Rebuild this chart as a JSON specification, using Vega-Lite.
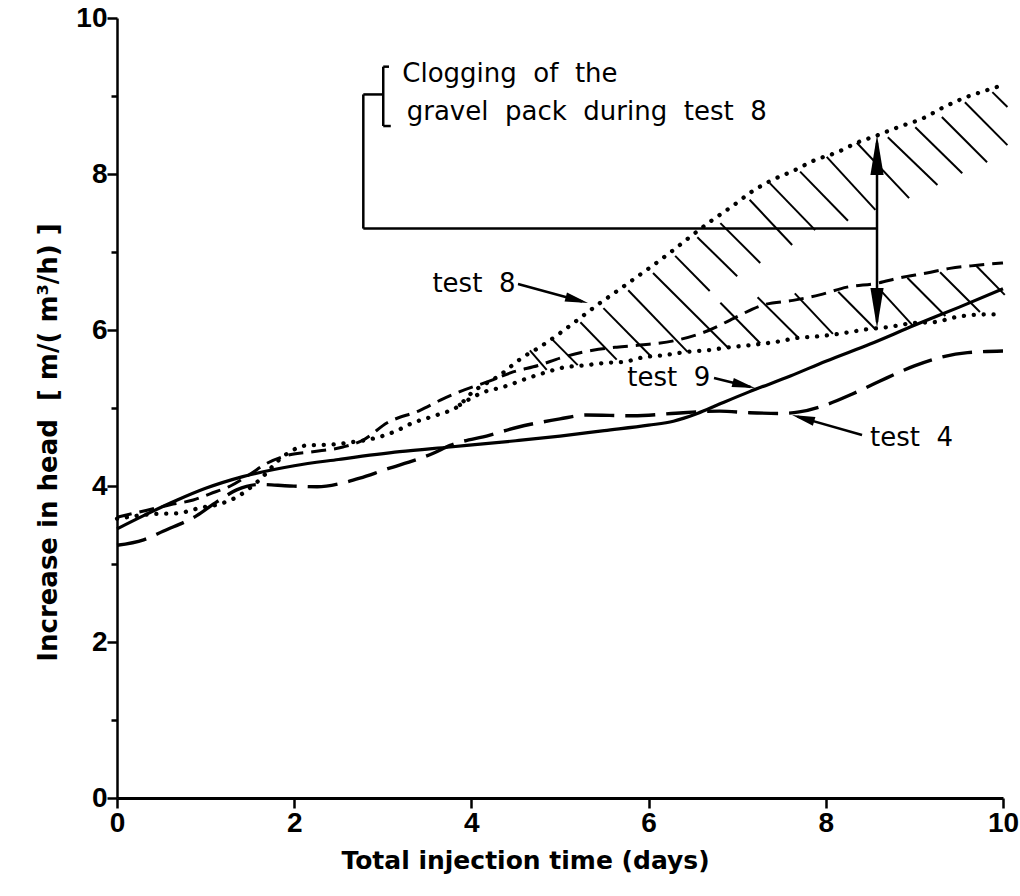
{
  "$schema": "https://vega.github.io/schema/vega-lite/v6.json",
  "width": 886,
  "height": 780,
  "autosize": {"type": "none"},
  "padding": {"left": 117, "top": 18, "right": 17, "bottom": 98},
  "background": "white",
  "config": {"view": {"stroke": null}, "font": "DejaVu Sans"},
  "datasets": {
    "curves": [
      {"series": "test 9", "x": 0, "y": 3.45}, {"series": "test 9", "x": 0.3, "y": 3.62}, {"series": "test 9", "x": 0.68, "y": 3.82},
      {"series": "test 9", "x": 1.0, "y": 3.97}, {"series": "test 9", "x": 1.42, "y": 4.12}, {"series": "test 9", "x": 2.0, "y": 4.26},
      {"series": "test 9", "x": 2.5, "y": 4.34}, {"series": "test 9", "x": 3.19, "y": 4.44}, {"series": "test 9", "x": 3.76, "y": 4.5},
      {"series": "test 9", "x": 4.5, "y": 4.58}, {"series": "test 9", "x": 5.0, "y": 4.64}, {"series": "test 9", "x": 5.5, "y": 4.71},
      {"series": "test 9", "x": 6.0, "y": 4.78}, {"series": "test 9", "x": 6.28, "y": 4.83}, {"series": "test 9", "x": 6.4, "y": 4.87},
      {"series": "test 9", "x": 6.55, "y": 4.93}, {"series": "test 9", "x": 6.8, "y": 5.05}, {"series": "test 9", "x": 7.14, "y": 5.21},
      {"series": "test 9", "x": 7.6, "y": 5.41}, {"series": "test 9", "x": 8.0, "y": 5.6}, {"series": "test 9", "x": 8.5, "y": 5.82},
      {"series": "test 9", "x": 9.0, "y": 6.06}, {"series": "test 9", "x": 9.5, "y": 6.29}, {"series": "test 9", "x": 10.0, "y": 6.53},

      {"series": "test 4", "x": 0, "y": 3.24}, {"series": "test 4", "x": 0.3, "y": 3.31}, {"series": "test 4", "x": 0.52, "y": 3.42},
      {"series": "test 4", "x": 0.9, "y": 3.62}, {"series": "test 4", "x": 1.13, "y": 3.8}, {"series": "test 4", "x": 1.35, "y": 3.95},
      {"series": "test 4", "x": 1.61, "y": 4.02}, {"series": "test 4", "x": 1.95, "y": 4.0}, {"series": "test 4", "x": 2.26, "y": 3.99},
      {"series": "test 4", "x": 2.55, "y": 4.04}, {"series": "test 4", "x": 2.74, "y": 4.1}, {"series": "test 4", "x": 3.0, "y": 4.2},
      {"series": "test 4", "x": 3.57, "y": 4.42}, {"series": "test 4", "x": 3.76, "y": 4.52}, {"series": "test 4", "x": 4.2, "y": 4.65},
      {"series": "test 4", "x": 4.51, "y": 4.75}, {"series": "test 4", "x": 5.0, "y": 4.86}, {"series": "test 4", "x": 5.3, "y": 4.91},
      {"series": "test 4", "x": 5.82, "y": 4.9}, {"series": "test 4", "x": 6.39, "y": 4.94}, {"series": "test 4", "x": 6.8, "y": 4.96},
      {"series": "test 4", "x": 7.14, "y": 4.94}, {"series": "test 4", "x": 7.5, "y": 4.93}, {"series": "test 4", "x": 7.7, "y": 4.95},
      {"series": "test 4", "x": 8.0, "y": 5.04}, {"series": "test 4", "x": 8.3, "y": 5.18}, {"series": "test 4", "x": 8.6, "y": 5.34},
      {"series": "test 4", "x": 9.0, "y": 5.54}, {"series": "test 4", "x": 9.3, "y": 5.65}, {"series": "test 4", "x": 9.6, "y": 5.71},
      {"series": "test 4", "x": 10.0, "y": 5.73},

      {"series": "dashed", "x": 0, "y": 3.6}, {"series": "dashed", "x": 0.34, "y": 3.69}, {"series": "dashed", "x": 0.6, "y": 3.76},
      {"series": "dashed", "x": 0.86, "y": 3.82}, {"series": "dashed", "x": 1.05, "y": 3.9}, {"series": "dashed", "x": 1.28, "y": 4.0},
      {"series": "dashed", "x": 1.5, "y": 4.15}, {"series": "dashed", "x": 1.69, "y": 4.29}, {"series": "dashed", "x": 1.95, "y": 4.4},
      {"series": "dashed", "x": 2.21, "y": 4.44}, {"series": "dashed", "x": 2.55, "y": 4.5}, {"series": "dashed", "x": 2.78, "y": 4.59},
      {"series": "dashed", "x": 3.05, "y": 4.81}, {"series": "dashed", "x": 3.42, "y": 4.97}, {"series": "dashed", "x": 3.65, "y": 5.1},
      {"series": "dashed", "x": 3.87, "y": 5.21}, {"series": "dashed", "x": 4.24, "y": 5.36}, {"series": "dashed", "x": 4.44, "y": 5.45},
      {"series": "dashed", "x": 4.77, "y": 5.55}, {"series": "dashed", "x": 5.0, "y": 5.64}, {"series": "dashed", "x": 5.37, "y": 5.74},
      {"series": "dashed", "x": 5.64, "y": 5.78}, {"series": "dashed", "x": 5.94, "y": 5.81}, {"series": "dashed", "x": 6.32, "y": 5.87},
      {"series": "dashed", "x": 6.69, "y": 6.0}, {"series": "dashed", "x": 6.96, "y": 6.15}, {"series": "dashed", "x": 7.29, "y": 6.32},
      {"series": "dashed", "x": 7.63, "y": 6.38}, {"series": "dashed", "x": 7.93, "y": 6.45}, {"series": "dashed", "x": 8.24, "y": 6.55},
      {"series": "dashed", "x": 8.58, "y": 6.6}, {"series": "dashed", "x": 8.84, "y": 6.67}, {"series": "dashed", "x": 9.14, "y": 6.73},
      {"series": "dashed", "x": 9.4, "y": 6.79}, {"series": "dashed", "x": 9.71, "y": 6.83}, {"series": "dashed", "x": 10.0, "y": 6.86},

      {"series": "test 8", "x": 0, "y": 3.58}, {"series": "test 8", "x": 0.41, "y": 3.64}, {"series": "test 8", "x": 0.68, "y": 3.65},
      {"series": "test 8", "x": 0.94, "y": 3.72}, {"series": "test 8", "x": 1.16, "y": 3.77}, {"series": "test 8", "x": 1.37, "y": 3.87},
      {"series": "test 8", "x": 1.58, "y": 4.05}, {"series": "test 8", "x": 1.9, "y": 4.4}, {"series": "test 8", "x": 2.14, "y": 4.52},
      {"series": "test 8", "x": 2.4, "y": 4.53}, {"series": "test 8", "x": 2.7, "y": 4.57}, {"series": "test 8", "x": 2.86, "y": 4.6},
      {"series": "test 8", "x": 3.12, "y": 4.69}, {"series": "test 8", "x": 3.34, "y": 4.81}, {"series": "test 8", "x": 3.61, "y": 4.91},
      {"series": "test 8", "x": 3.87, "y": 5.04}, {"series": "test 8", "x": 3.98, "y": 5.17}, {"series": "test 8", "x": 4.32, "y": 5.42},
      {"series": "test 8", "x": 4.58, "y": 5.65}, {"series": "test 8", "x": 4.77, "y": 5.78}, {"series": "test 8", "x": 5.0, "y": 5.96},
      {"series": "test 8", "x": 5.2, "y": 6.13}, {"series": "test 8", "x": 5.42, "y": 6.32}, {"series": "test 8", "x": 5.62, "y": 6.48},
      {"series": "test 8", "x": 5.83, "y": 6.65}, {"series": "test 8", "x": 6.04, "y": 6.82}, {"series": "test 8", "x": 6.24, "y": 6.99},
      {"series": "test 8", "x": 6.43, "y": 7.16}, {"series": "test 8", "x": 6.66, "y": 7.36}, {"series": "test 8", "x": 6.96, "y": 7.6},
      {"series": "test 8", "x": 7.16, "y": 7.77}, {"series": "test 8", "x": 7.39, "y": 7.92}, {"series": "test 8", "x": 7.65, "y": 8.05},
      {"series": "test 8", "x": 7.88, "y": 8.18}, {"series": "test 8", "x": 8.13, "y": 8.28}, {"series": "test 8", "x": 8.35, "y": 8.4},
      {"series": "test 8", "x": 8.59, "y": 8.5}, {"series": "test 8", "x": 8.84, "y": 8.61}, {"series": "test 8", "x": 9.09, "y": 8.71},
      {"series": "test 8", "x": 9.32, "y": 8.85}, {"series": "test 8", "x": 9.55, "y": 8.97}, {"series": "test 8", "x": 9.78, "y": 9.06},
      {"series": "test 8", "x": 10.0, "y": 9.14},

      {"series": "dotted lower", "x": 3.87, "y": 5.04}, {"series": "dotted lower", "x": 4.13, "y": 5.2}, {"series": "dotted lower", "x": 4.36, "y": 5.27},
      {"series": "dotted lower", "x": 4.63, "y": 5.38}, {"series": "dotted lower", "x": 4.85, "y": 5.46}, {"series": "dotted lower", "x": 5.0, "y": 5.51},
      {"series": "dotted lower", "x": 5.3, "y": 5.55}, {"series": "dotted lower", "x": 5.53, "y": 5.58}, {"series": "dotted lower", "x": 5.71, "y": 5.59},
      {"series": "dotted lower", "x": 5.94, "y": 5.65}, {"series": "dotted lower", "x": 6.19, "y": 5.68}, {"series": "dotted lower", "x": 6.43, "y": 5.72},
      {"series": "dotted lower", "x": 6.66, "y": 5.74}, {"series": "dotted lower", "x": 6.92, "y": 5.78}, {"series": "dotted lower", "x": 7.18, "y": 5.81},
      {"series": "dotted lower", "x": 7.45, "y": 5.85}, {"series": "dotted lower", "x": 7.69, "y": 5.9}, {"series": "dotted lower", "x": 7.93, "y": 5.92},
      {"series": "dotted lower", "x": 8.2, "y": 5.96}, {"series": "dotted lower", "x": 8.47, "y": 6.01}, {"series": "dotted lower", "x": 8.72, "y": 6.04},
      {"series": "dotted lower", "x": 8.99, "y": 6.09}, {"series": "dotted lower", "x": 9.21, "y": 6.1}, {"series": "dotted lower", "x": 9.49, "y": 6.17},
      {"series": "dotted lower", "x": 9.63, "y": 6.19}, {"series": "dotted lower", "x": 9.85, "y": 6.2}, {"series": "dotted lower", "x": 10.0, "y": 6.2}
    ],
    "segments": [
      {"kind": "hatch", "x": 4.66, "y": 5.74, "x2": 4.85, "y2": 5.49},
      {"kind": "hatch", "x": 4.92, "y": 5.87, "x2": 5.2, "y2": 5.55},
      {"kind": "hatch", "x": 5.23, "y": 6.1, "x2": 5.64, "y2": 5.62},
      {"kind": "hatch", "x": 5.49, "y": 6.28, "x2": 6.02, "y2": 5.67},
      {"kind": "hatch", "x": 5.77, "y": 6.51, "x2": 6.44, "y2": 5.72},
      {"kind": "hatch", "x": 6.05, "y": 6.73, "x2": 6.9, "y2": 5.77},
      {"kind": "hatch", "x": 6.3, "y": 6.95, "x2": 6.69, "y2": 6.5},
      {"kind": "hatch", "x": 6.55, "y": 7.19, "x2": 7.0, "y2": 6.69},
      {"kind": "hatch", "x": 6.81, "y": 7.37, "x2": 7.26, "y2": 6.86},
      {"kind": "hatch", "x": 7.14, "y": 7.67, "x2": 7.62, "y2": 7.09},
      {"kind": "hatch", "x": 7.37, "y": 7.88, "x2": 7.88, "y2": 7.28},
      {"kind": "hatch", "x": 7.71, "y": 8.03, "x2": 8.25, "y2": 7.4},
      {"kind": "hatch", "x": 8.01, "y": 8.22, "x2": 8.56, "y2": 7.54},
      {"kind": "hatch", "x": 8.35, "y": 8.4, "x2": 8.94, "y2": 7.69},
      {"kind": "hatch", "x": 8.7, "y": 8.47, "x2": 9.26, "y2": 7.86},
      {"kind": "hatch", "x": 9.01, "y": 8.6, "x2": 9.54, "y2": 8.01},
      {"kind": "hatch", "x": 9.31, "y": 8.73, "x2": 9.82, "y2": 8.15},
      {"kind": "hatch", "x": 9.57, "y": 8.92, "x2": 10.05, "y2": 8.37},
      {"kind": "hatch", "x": 9.88, "y": 9.05, "x2": 10.05, "y2": 8.86},
      {"kind": "hatch", "x": 6.81, "y": 6.35, "x2": 7.26, "y2": 5.83},
      {"kind": "hatch", "x": 7.23, "y": 6.42, "x2": 7.69, "y2": 5.9},
      {"kind": "hatch", "x": 7.65, "y": 6.47, "x2": 8.08, "y2": 5.95},
      {"kind": "hatch", "x": 8.14, "y": 6.49, "x2": 8.56, "y2": 6.01},
      {"kind": "hatch", "x": 8.6, "y": 6.53, "x2": 8.98, "y2": 6.06},
      {"kind": "hatch", "x": 8.92, "y": 6.67, "x2": 9.35, "y2": 6.18},
      {"kind": "hatch", "x": 9.29, "y": 6.74, "x2": 9.74, "y2": 6.23},
      {"kind": "hatch", "x": 9.7, "y": 6.82, "x2": 10.02, "y2": 6.45},
      {"kind": "leader", "x": 2.78, "y": 7.3, "x2": 8.578, "y2": 7.3},
      {"kind": "leader", "x": 2.78, "y": 7.3, "x2": 2.78, "y2": 9.02},
      {"kind": "leader", "x": 2.78, "y": 9.02, "x2": 3.005, "y2": 9.02},
      {"kind": "leader", "x": 3.005, "y": 8.615, "x2": 3.005, "y2": 9.376},
      {"kind": "leader", "x": 3.005, "y": 9.376, "x2": 3.07, "y2": 9.376},
      {"kind": "leader", "x": 3.005, "y": 8.615, "x2": 3.09, "y2": 8.615},
      {"kind": "leader", "x": 8.578, "y": 6.1, "x2": 8.578, "y2": 8.4},
      {"kind": "leader", "x": 4.526, "y": 6.59, "x2": 5.25, "y2": 6.366},
      {"kind": "leader", "x": 6.738, "y": 5.385, "x2": 7.15, "y2": 5.27},
      {"kind": "leader", "x": 8.409, "y": 4.654, "x2": 7.68, "y2": 4.89}
    ],
    "heads": [
      {"arrow": "test 8", "x": 5.316, "y": 6.346},
      {"arrow": "test 9", "x": 7.201, "y": 5.256},
      {"arrow": "test 4", "x": 7.619, "y": 4.91},
      {"arrow": "up", "x": 8.578, "y": 8.5},
      {"arrow": "down", "x": 8.578, "y": 6.026}
    ],
    "notes": [
      {"label": "test\u00a0 8", "x": 3.56, "y": 6.487},
      {"label": "test\u00a0 9", "x": 5.76, "y": 5.282},
      {"label": "test\u00a0 4", "x": 8.5, "y": 4.513},
      {"label": "Clogging\u00a0 of\u00a0 the", "x": 3.22, "y": 9.18},
      {"label": "gravel\u00a0 pack\u00a0 during\u00a0 test\u00a0 8", "x": 3.27, "y": 8.69}
    ]
  },
  "encoding": {
    "x": {
      "field": "x", "type": "quantitative",
      "scale": {"domain": [0, 10], "nice": false, "zero": false},
      "axis": {
        "title": "Total injection time (days)",
        "values": [0, 2, 4, 6, 8, 10],
        "grid": false,
        "domainColor": "black", "domainWidth": 3,
        "tickColor": "black", "tickWidth": 2.5, "tickSize": 10,
        "labelFont": "Liberation Sans", "labelFontSize": 28, "labelFontWeight": "bold", "labelColor": "black",
        "labelPadding": 1, "labelFlush": false,
        "titleFont": "DejaVu Sans", "titleFontSize": 25, "titleFontWeight": "bold", "titleColor": "black",
        "titleX": 408, "titleY": 70, "titleAlign": "center", "titleBaseline": "alphabetic"
      }
    },
    "y": {
      "field": "y", "type": "quantitative",
      "scale": {"domain": [0, 10], "nice": false, "zero": false},
      "axis": {
        "title": "Increase in head\u00a0 [\u00a0m/(\u00a0m³/h)\u00a0]",
        "values": [0, 1, 2, 3, 4, 5, 6, 7, 8, 9, 10],
        "labelExpr": "datum.value % 2 === 0 ? datum.label : ''",
        "grid": false,
        "domainColor": "black", "domainWidth": 2.5,
        "tickColor": "black", "tickWidth": 2.5,
        "tickSize": {"condition": {"test": "datum.value % 2 === 1", "value": 6}, "value": 10},
        "labelFont": "Liberation Sans", "labelFontSize": 28, "labelFontWeight": "bold", "labelColor": "black",
        "labelPadding": 0, "labelFlush": false,
        "titleFont": "DejaVu Sans", "titleFontSize": 26, "titleFontWeight": "bold", "titleColor": "black",
        "titleAngle": 270, "titleX": -69, "titleY": 424, "titleAlign": "center", "titleBaseline": "middle"
      }
    }
  },
  "layer": [
    {
      "data": {"name": "segments"},
      "transform": [{"filter": "datum.kind === 'hatch'"}],
      "mark": {"type": "rule", "color": "black", "strokeWidth": 2},
      "encoding": {"x2": {"field": "x2"}, "y2": {"field": "y2"}}
    },
    {
      "data": {"name": "segments"},
      "transform": [{"filter": "datum.kind === 'leader'"}],
      "mark": {"type": "rule", "color": "black", "strokeWidth": 2.5},
      "encoding": {"x2": {"field": "x2"}, "y2": {"field": "y2"}}
    },
    {
      "data": {"name": "curves"},
      "transform": [{"filter": "datum.series === 'test 9'"}],
      "mark": {"type": "line", "color": "black", "strokeWidth": 3.2, "interpolate": "monotone"}
    },
    {
      "data": {"name": "curves"},
      "transform": [{"filter": "datum.series === 'test 4'"}],
      "mark": {"type": "line", "color": "black", "strokeWidth": 3.4, "interpolate": "monotone", "strokeDash": [30, 11]}
    },
    {
      "data": {"name": "curves"},
      "transform": [{"filter": "datum.series === 'dashed'"}],
      "mark": {"type": "line", "color": "black", "strokeWidth": 3, "interpolate": "monotone", "strokeDash": [15, 8]}
    },
    {
      "data": {"name": "curves"},
      "transform": [{"filter": "datum.series === 'test 8' || datum.series === 'dotted lower'"}],
      "mark": {"type": "line", "color": "black", "strokeWidth": 4.3, "interpolate": "monotone", "strokeDash": [0.1, 9.8], "strokeCap": "round"},
      "encoding": {"detail": {"field": "series"}}
    },
    {
      "data": {"name": "heads"},
      "transform": [{"filter": "datum.arrow === 'test 8'"}],
      "mark": {"type": "point", "shape": "M0,0L0.4,2L-0.4,2Z", "size": 529, "angle": 105, "filled": true, "color": "black", "opacity": 1}
    },
    {
      "data": {"name": "heads"},
      "transform": [{"filter": "datum.arrow === 'test 9'"}],
      "mark": {"type": "point", "shape": "M0,0L0.4,2L-0.4,2Z", "size": 529, "angle": 104, "filled": true, "color": "black", "opacity": 1}
    },
    {
      "data": {"name": "heads"},
      "transform": [{"filter": "datum.arrow === 'test 4'"}],
      "mark": {"type": "point", "shape": "M0,0L0.4,2L-0.4,2Z", "size": 529, "angle": 286, "filled": true, "color": "black", "opacity": 1}
    },
    {
      "data": {"name": "heads"},
      "transform": [{"filter": "datum.arrow === 'up'"}],
      "mark": {"type": "point", "shape": "M0,0L0.33,2L-0.33,2Z", "size": 1600, "angle": 0, "filled": true, "color": "black", "opacity": 1}
    },
    {
      "data": {"name": "heads"},
      "transform": [{"filter": "datum.arrow === 'down'"}],
      "mark": {"type": "point", "shape": "M0,0L0.33,2L-0.33,2Z", "size": 1600, "angle": 180, "filled": true, "color": "black", "opacity": 1}
    },
    {
      "data": {"name": "notes"},
      "mark": {"type": "text", "font": "DejaVu Sans", "fontSize": 26, "align": "left", "baseline": "alphabetic", "color": "black"},
      "encoding": {"text": {"field": "label"}}
    }
  ]
}
